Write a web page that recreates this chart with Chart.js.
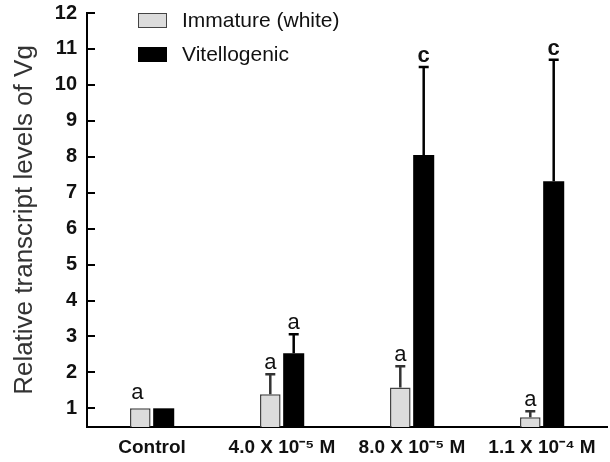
<!DOCTYPE html>
<html>
<head>
<meta charset="utf-8">
<script src="https://cdn.jsdelivr.net/npm/chart.js@4.4.0/dist/chart.umd.min.js"></script>
<style>
  html, body { margin: 0; padding: 0; background: #fff; }
  #wrap { position: relative; width: 610px; height: 462px; }
  .leg { position: absolute; left: 138px; font: 21px 'Liberation Sans', Arial, sans-serif; color: #111; display: flex; align-items: center; }
  .leg .box { width: 29px; height: 15px; margin-right: 15px; box-sizing: border-box; }
</style>
</head>
<body>
<div id="wrap">
  <canvas id="chart" width="610" height="462"></canvas>
  <div class="leg" style="top:8px"><span class="box" style="background:#dcdcdc;border:1.5px solid #444"></span>Immature (white)</div>
  <div class="leg" style="top:42px"><span class="box" style="background:#000"></span>Vitellogenic</div>
</div>
<script>
const categories = ['Control', '4.0 X 10\u207B\u2075 M', '8.0 X 10\u207B\u2075 M', '1.1 X 10\u207B\u2074 M'];
const immature = [1.0, 1.39, 1.58, 0.75];
const immatureErrTop = [1.0, 1.95, 2.17, 0.92];
const immatureLetters = ['a', 'a', 'a', 'a'];
const vitellogenic = [1.0, 2.53, 8.05, 7.32];
const vitellogenicErrTop = [1.0, 3.06, 10.5, 10.7];
const vitellogenicLetters = ['', 'a', 'c', 'c'];
const yTicks = [1, 2, 3, 4, 5, 6, 7, 8, 9, 10, 11, 12];

const errTops = [immatureErrTop, vitellogenicErrTop];
const letters = [immatureLetters, vitellogenicLetters];

// upper error bars + significance letters
const errorBars = {
  id: 'errorBars',
  afterDatasetsDraw(chart) {
    const ctx = chart.ctx;
    const y = chart.scales.y;
    chart.data.datasets.forEach((ds, di) => {
      const meta = chart.getDatasetMeta(di);
      meta.data.forEach((bar, i) => {
        const top = errTops[di][i];
        let textY = bar.y;
        ctx.save();
        if (top > ds.data[i]) {
          const py = y.getPixelForValue(top);
          ctx.strokeStyle = di === 0 ? '#333' : '#000';
          ctx.lineWidth = 2.5;
          ctx.beginPath();
          ctx.moveTo(bar.x, bar.y);
          ctx.lineTo(bar.x, py);
          ctx.moveTo(bar.x - 5, py);
          ctx.lineTo(bar.x + 5, py);
          ctx.stroke();
          textY = py;
        } else {
          textY = bar.y - 4;
        }
        const t = letters[di][i];
        if (t) {
          ctx.fillStyle = '#111';
          ctx.font = (t === 'c' ? 'bold ' : '') + '22px "Liberation Sans", Arial, sans-serif';
          ctx.textAlign = 'center';
          ctx.textBaseline = 'alphabetic';
          ctx.fillText(t, bar.x - (i === 0 ? 3 : 0), textY - 5);
        }
        ctx.restore();
      });
    });
  }
};

// tick marks pointing into the plot
const innerTicks = {
  id: 'innerTicks',
  afterDraw(chart) {
    const ctx = chart.ctx;
    const y = chart.scales.y;
    const left = chart.chartArea.left;
    ctx.save();
    ctx.strokeStyle = '#000';
    ctx.lineWidth = 2;
    ctx.beginPath();
    y.ticks.forEach(t => {
      const py = Math.round(y.getPixelForValue(t.value));
      ctx.moveTo(left, py);
      ctx.lineTo(left + 8, py);
    });
    ctx.stroke();
    ctx.restore();
  }
};

new Chart(document.getElementById('chart'), {
  type: 'bar',
  data: {
    labels: categories,
    datasets: [
      {
        label: 'Immature (white)',
        data: immature,
        backgroundColor: '#dcdcdc',
        borderColor: '#444',
        borderWidth: 1.5,
        barPercentage: 0.88,
        categoryPercentage: 0.36,
      },
      {
        label: 'Vitellogenic',
        data: vitellogenic,
        backgroundColor: '#000',
        borderWidth: 0,
        barPercentage: 0.9,
        categoryPercentage: 0.36,
      },
    ],
  },
  options: {
    responsive: false,
    animation: false,
    layout: { padding: { top: 13, right: 3, left: 0, bottom: 0 } },
    plugins: {
      legend: { display: false },
      tooltip: { enabled: false },
    },
    scales: {
      x: {
        grid: { display: false, drawTicks: false },
        border: { color: '#000', width: 2 },
        ticks: {
          color: '#111',
          padding: 9,
          maxRotation: 0,
          autoSkip: false,
          font: { family: 'Liberation Sans', size: 19, weight: 'bold' },
        },
        afterFit: s => { s.height = 35; },
      },
      y: {
        min: 0.48,
        max: 12,
        afterBuildTicks: s => { s.ticks = yTicks.map(v => ({ value: v })); },
        grid: { display: false, drawTicks: false },
        border: { color: '#000', width: 2 },
        ticks: {
          color: '#111',
          padding: 10,
          font: { family: 'Liberation Sans', size: 20, weight: 'bold' },
        },
        title: {
          display: true,
          text: 'Relative transcript levels of Vg',
          color: '#333',
          padding: { top: 9, bottom: 0 },
          font: { family: 'Liberation Sans', size: 26 },
        },
        afterFit: s => { s.width = 87; s.paddingTop = 0; s.paddingBottom = 0; },
      },
    },
  },
  plugins: [errorBars, innerTicks],
});
</script>
</body>
</html>
